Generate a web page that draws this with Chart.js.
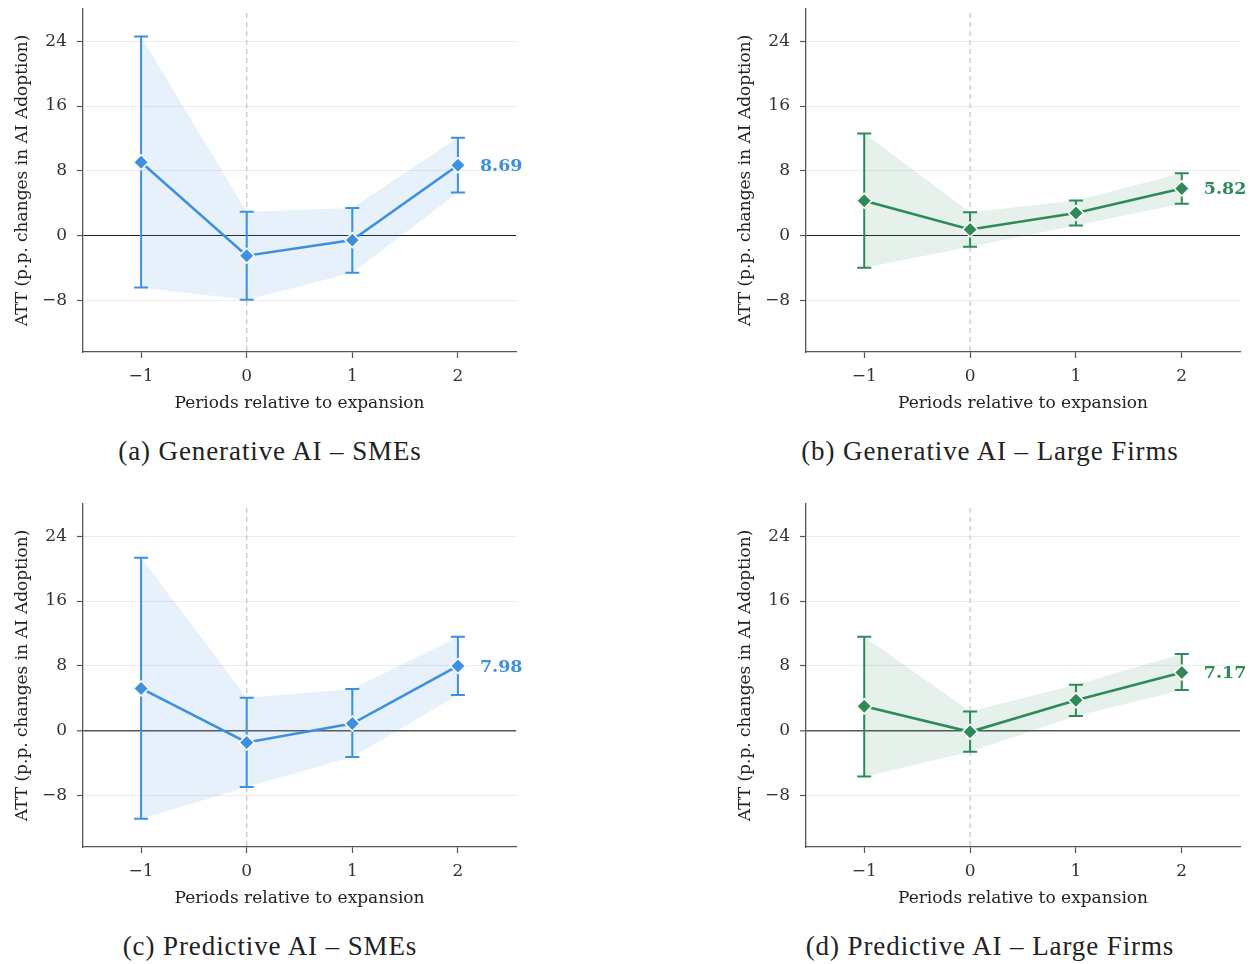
<!DOCTYPE html>
<html>
<head>
<meta charset="utf-8">
<script src="https://cdn.jsdelivr.net/npm/chart.js@4.4.1/dist/chart.umd.min.js"></script>
<style>
body{margin:0;background:#fff;width:1257px;height:964px;position:relative;overflow:hidden}
canvas{position:absolute}
.cap{position:absolute;height:30px;line-height:30px;font-family:"Liberation Serif",serif;font-size:27px;letter-spacing:0.9px;color:#222;text-align:center;white-space:nowrap}
</style>
</head>
<body>
<canvas id="c0" width="540" height="420" style="left:0;top:0"></canvas>
<canvas id="c1" width="534" height="420" style="left:723px;top:0"></canvas>
<canvas id="c2" width="540" height="420" style="left:0;top:495px"></canvas>
<canvas id="c3" width="534" height="420" style="left:723px;top:495px"></canvas>
<div class="cap" style="left:0;width:540px;top:436px">(a) Generative AI – SMEs</div>
<div class="cap" style="left:723px;width:534px;top:436px">(b) Generative AI – Large Firms</div>
<div class="cap" style="left:0;width:540px;top:931px">(c) Predictive AI – SMEs</div>
<div class="cap" style="left:723px;width:534px;top:931px">(d) Predictive AI – Large Firms</div>
<script>
// DATA
const periods = [-1, 0, 1, 2];
const yTicks = [-8, 0, 8, 16, 24];

const genSmeAtt = [9.06, -2.50, -0.57, 8.69];
const genSmeLo  = [-6.43, -7.95, -4.59, 5.33];
const genSmeHi  = [24.60, 2.95, 3.40, 12.09];

const genLargeAtt = [4.30, 0.74, 2.79, 5.82];
const genLargeLo  = [-3.98, -1.39, 1.23, 3.93];
const genLargeHi  = [12.62, 2.87, 4.34, 7.70];

const predSmeAtt = [5.20, -1.48, 0.86, 7.98];
const predSmeLo  = [-10.90, -6.97, -3.28, 4.39];
const predSmeHi  = [21.35, 4.06, 5.12, 11.60];

const predLargeAtt = [2.99, -0.16, 3.73, 7.17];
const predLargeLo  = [-5.70, -2.62, 1.80, 5.00];
const predLargeHi  = [11.60, 2.34, 5.66, 9.47];

const BLUE = '#3d8fdf', BLUE_BAND = 'rgba(61,143,223,0.13)';
const GREEN = '#2e8b57', GREEN_BAND = 'rgba(46,139,87,0.12)';
const SERIF = "'DejaVu Serif', serif";

const pts = arr => periods.map((p,i)=>({x:p, y:arr[i]}));
const fmtTick = v => v<0 ? '\u2212'+Math.abs(v) : String(v);

function makeChart(id, att, lo, hi, color, band, zeroColor, zeroWidth, padRight){
    // error bars + dashed line at 0 + end label
    const extras = {
        id:'extras',
        beforeDatasetsDraw(chart){
            const {ctx, chartArea:a, scales:{x}} = chart;
            const px = x.getPixelForValue(0);
            ctx.save();
            ctx.strokeStyle='#c8c8c8'; ctx.lineWidth=1.3; ctx.setLineDash([5,4]);
            ctx.beginPath(); ctx.moveTo(px,a.top+4); ctx.lineTo(px,a.bottom); ctx.stroke();
            ctx.restore();
        },
        afterDatasetDraw(chart,args){
            if(args.index!==1) return;
            const {ctx, scales:{x,y}} = chart;
            ctx.save();
            ctx.strokeStyle=color; ctx.lineWidth=2;
            periods.forEach((p,i)=>{
                const px=x.getPixelForValue(p), y1=y.getPixelForValue(lo[i]), y2=y.getPixelForValue(hi[i]);
                ctx.beginPath();
                ctx.moveTo(px,y1); ctx.lineTo(px,y2);
                ctx.moveTo(px-7,y1); ctx.lineTo(px+7,y1);
                ctx.moveTo(px-7,y2); ctx.lineTo(px+7,y2);
                ctx.stroke();
            });
            ctx.restore();
        },
        afterDatasetsDraw(chart){
            const {ctx, scales:{x,y}} = chart;
            const last = att.length-1;
            ctx.save();
            ctx.fillStyle=color; ctx.font="bold 17.5px "+SERIF;
            ctx.textAlign='left'; ctx.textBaseline='middle';
            ctx.fillText(att[last].toFixed(2), x.getPixelForValue(periods[last])+22, y.getPixelForValue(att[last])+1);
            ctx.restore();
        }
    };

    return new Chart(document.getElementById(id),{
        type:'line',
        data:{
            datasets:[
                {data:pts(att), borderColor:color, borderWidth:2.6, pointStyle:'rectRot', pointRadius:7.5,
                 pointBackgroundColor:color, pointBorderColor:'#fff', pointBorderWidth:1.5, fill:false, tension:0},
                {data:pts(hi), borderWidth:0, pointRadius:0, fill:false},
                {data:pts(lo), borderWidth:0, pointRadius:0, fill:'-1', backgroundColor:band}
            ]
        },
        options:{
            responsive:false,
            animation:false,
            events:[],
            layout:{padding:{left:0, top:8, right:padRight, bottom:0}},
            plugins:{legend:{display:false}, tooltip:{enabled:false}},
            scales:{
                x:{
                    type:'linear', min:-1.55, max:2.55,
                    afterBuildTicks: s => { s.ticks = periods.map(v=>({value:v})); },
                    afterFit: s => { s.height = 68; s.paddingLeft = 0; s.paddingRight = 0; },
                    grid:{drawOnChartArea:false, drawTicks:true, tickLength:6, tickColor:'#555', tickWidth:1.2},
                    border:{color:'#555', width:1.3},
                    ticks:{color:'#333', font:{family:SERIF, size:17}, padding:8, callback:fmtTick, maxRotation:0},
                    title:{display:true, text:'Periods relative to expansion', color:'#222',
                           font:{family:SERIF, size:17}, padding:{top:0, bottom:6}}
                },
                y:{
                    type:'linear', min:-14.4, max:28,
                    afterBuildTicks: s => { s.ticks = yTicks.map(v=>({value:v})); },
                    afterFit: s => { s.width = 83; s.paddingTop = 0; s.paddingBottom = 0; },
                    grid:{
                        color: c => c.tick && c.tick.value===0 ? zeroColor : '#ececec',
                        lineWidth: c => c.tick && c.tick.value===0 ? zeroWidth : 1,
                        drawTicks:true, tickLength:6, tickColor:'#555', tickWidth:1.2
                    },
                    border:{color:'#555', width:1.3},
                    ticks:{color:'#333', font:{family:SERIF, size:17}, padding:10, callback:fmtTick},
                    title:{display:true, text:'ATT (p.p. changes in AI Adoption)', color:'#222',
                           font:{family:SERIF, size:17}, padding:{top:12, bottom:0}}
                }
            }
        },
        plugins:[extras]
    });
}

makeChart('c0', genSmeAtt, genSmeLo, genSmeHi, BLUE, BLUE_BAND, '#222', 1.1, 24);
makeChart('c1', genLargeAtt, genLargeLo, genLargeHi, GREEN, GREEN_BAND, '#222', 1.1, 17);
makeChart('c2', predSmeAtt, predSmeLo, predSmeHi, BLUE, BLUE_BAND, '#555', 1.6, 24);
makeChart('c3', predLargeAtt, predLargeLo, predLargeHi, GREEN, GREEN_BAND, '#555', 1.6, 17);
</script>
</body>
</html>
